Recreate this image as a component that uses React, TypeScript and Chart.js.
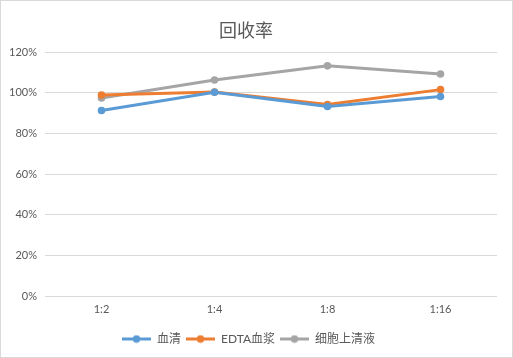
import React, { useEffect, useRef } from "react";
import { Chart, registerables } from "chart.js";

Chart.register(...registerables);

const categories = ["1:2", "1:4", "1:8", "1:16"];
const serumValues = [91.2, 100.2, 93.2, 98.1];
const edtaValues = [98.8, 100.3, 94.2, 101.5];
const cellValues = [97.4, 106.2, 113.2, 109.2];
const seriesNames = ["血清", "EDTA血浆", "细胞上清液"];
const seriesColors = ["#5B9BD5", "#ED7D31", "#A5A5A5"];
const yTicks = [0, 20, 40, 60, 80, 100, 120];
const titleText = "回收率";

const FONT = "Lato, 'Noto Sans CJK SC', sans-serif";

function legendMarker(color: string): HTMLCanvasElement {
  const c = document.createElement("canvas");
  c.width = 29;
  c.height = 9;
  const ctx = c.getContext("2d")!;
  ctx.strokeStyle = color;
  ctx.lineWidth = 3;
  ctx.beginPath();
  ctx.moveTo(0, 4.5);
  ctx.lineTo(29, 4.5);
  ctx.stroke();
  ctx.fillStyle = color;
  ctx.beginPath();
  ctx.arc(14.5, 4.5, 3.8, 0, Math.PI * 2);
  ctx.fill();
  return c;
}

const titlePlugin = {
  id: "customTitle",
  afterDraw(chart: any) {
    const ctx = chart.ctx;
    ctx.save();
    ctx.font = `18px 'Noto Sans CJK SC', sans-serif`;
    ctx.fillStyle = "#595959";
    ctx.textAlign = "center";
    ctx.textBaseline = "middle";
    ctx.fillText(titleText, 246, 30);
    ctx.restore();
  },
};

export default function App() {
  const ref = useRef<HTMLCanvasElement | null>(null);
  useEffect(() => {
    if (!ref.current) return;
    const all = [serumValues, edtaValues, cellValues];
    const chart = new Chart(ref.current, {
      type: "line",
      data: {
        labels: categories,
        datasets: all.map((vals, i) => ({
          label: seriesNames[i],
          data: vals,
          borderColor: seriesColors[i],
          backgroundColor: seriesColors[i],
          borderWidth: 3,
          pointRadius: 3.8,
          pointHoverRadius: 3.8,
          pointBorderWidth: 0,
          pointStyle: "circle",
          tension: 0,
        })),
      },
      options: {
        animation: false,
        responsive: false,
        devicePixelRatio: 1,
        layout: { padding: { top: 52, right: 16, bottom: 3, left: 0 } },
        plugins: {
          title: { display: false },
          tooltip: { enabled: false },
          legend: {
            position: "bottom",
            labels: {
              usePointStyle: true,
              pointStyleWidth: 29,
              padding: 5,
              color: "#595959",
              font: { family: FONT, size: 12 },
              generateLabels: (ch: any) =>
                ch.data.datasets.map((d: any, i: number) => ({
                  text: d.label,
                  fillStyle: seriesColors[i],
                  strokeStyle: seriesColors[i],
                  lineWidth: 0,
                  pointStyle: legendMarker(seriesColors[i]),
                  datasetIndex: i,
                  hidden: false,
                  fontColor: "#595959",
                })),
            },
          },
        },
        scales: {
          x: {
            type: "category",
            offset: true,
            grid: { display: false, drawTicks: false },
            border: { display: false },
            ticks: { color: "#595959", font: { family: FONT, size: 11 }, padding: 7, maxRotation: 0 },
            afterFit: (s: any) => {
              s.height = 32;
            },
          },
          y: {
            min: 0,
            max: 120,
            afterBuildTicks: (s: any) => {
              s.ticks = yTicks.map((v) => ({ value: v }));
            },
            grid: { color: "#D9D9D9", lineWidth: 1, drawTicks: false },
            border: { display: false },
            ticks: {
              color: "#595959",
              font: { family: FONT, size: 11 },
              padding: 8,
              callback: (v: any) => `${v}%`,
            },
            afterFit: (s: any) => {
              s.width = 45;
            },
          },
        },
      },
      plugins: [titlePlugin],
    });
    return () => chart.destroy();
  }, []);
  return (
    <div
      style={{
        position: "fixed",
        left: 0,
        top: 0,
        width: 513,
        height: 358,
        background: "#fff",
      }}
    >
      <canvas ref={ref} width={513} height={358} style={{ display: "block" }} />
      <div
        style={{
          position: "absolute",
          left: 0,
          top: 0,
          width: 513,
          height: 358,
          boxSizing: "border-box",
          border: "1px solid #D9D9D9",
          pointerEvents: "none",
        }}
      />
    </div>
  );
}
